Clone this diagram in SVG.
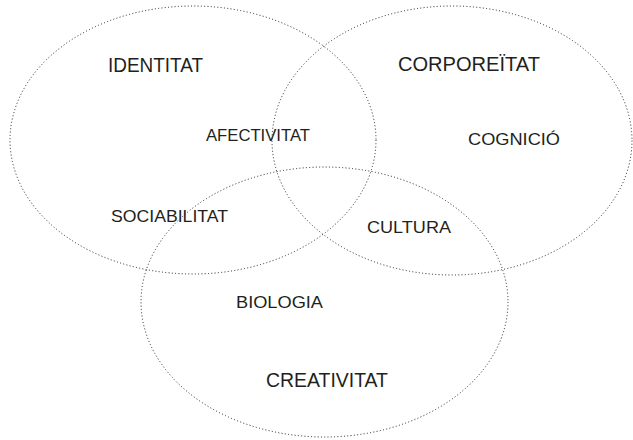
<svg xmlns="http://www.w3.org/2000/svg" width="633" height="440" viewBox="0 0 633 440">
<style>
.set{fill:none;stroke:#222222;stroke-width:1;stroke-dasharray:1 2.3}
.lbl{font-family:"Liberation Sans",Arial,Helvetica,sans-serif;fill:#231f20}
.big{font-size:20.5px}
.small{font-size:16.5px}
</style>
<rect width="633" height="440" fill="#ffffff"/>
<g id="set-identitat"><ellipse class="set" cx="193" cy="140" rx="183" ry="134"/></g>
<g id="set-corporeitat"><ellipse class="set" cx="452" cy="140.5" rx="180" ry="134.5"/></g>
<g id="set-creativitat"><ellipse class="set" cx="324.5" cy="302" rx="183.5" ry="135"/></g>
<g id="label-identitat"><text class="lbl big" x="108" y="72" textLength="95" lengthAdjust="spacingAndGlyphs">IDENTITAT</text></g>
<g id="label-corporeitat"><text class="lbl big" x="398" y="71" textLength="142" lengthAdjust="spacingAndGlyphs">CORPOREÏTAT</text></g>
<g id="label-afectivitat"><text class="lbl small" x="206" y="141" textLength="104" lengthAdjust="spacingAndGlyphs">AFECTIVITAT</text></g>
<g id="label-cognicio"><text class="lbl small" x="468" y="145" textLength="92" lengthAdjust="spacingAndGlyphs">COGNICIÓ</text></g>
<g id="label-sociabilitat"><text class="lbl small" x="111" y="222" textLength="117" lengthAdjust="spacingAndGlyphs">SOCIABILITAT</text></g>
<g id="label-cultura"><text class="lbl small" x="367" y="233" textLength="84" lengthAdjust="spacingAndGlyphs">CULTURA</text></g>
<g id="label-biologia"><text class="lbl small" x="236" y="308" textLength="87" lengthAdjust="spacingAndGlyphs">BIOLOGIA</text></g>
<g id="label-creativitat"><text class="lbl big" x="266" y="387" textLength="122" lengthAdjust="spacingAndGlyphs">CREATIVITAT</text></g>
</svg>
